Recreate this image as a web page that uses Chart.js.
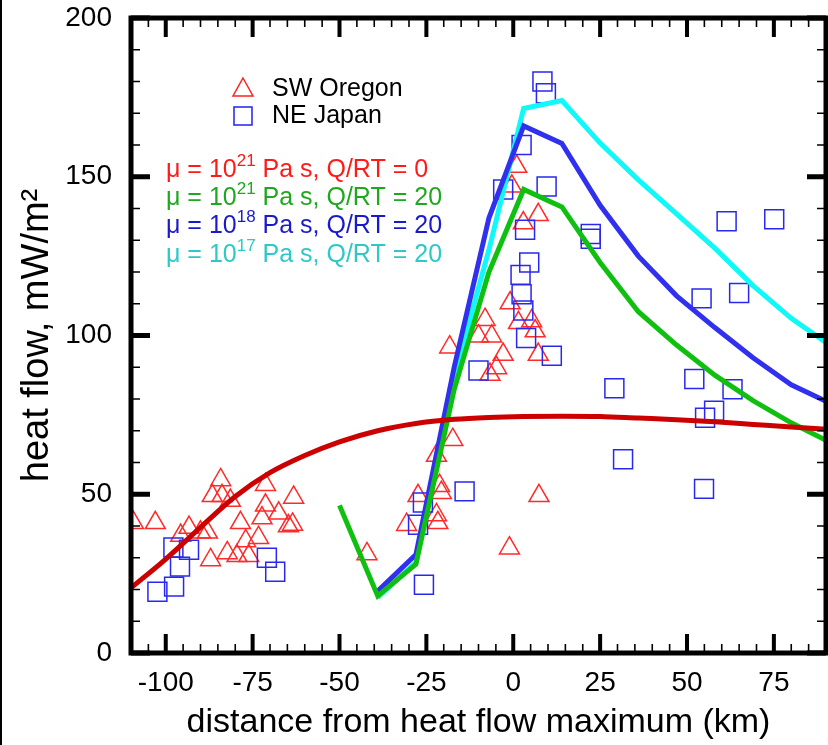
<!DOCTYPE html>
<html>
<head>
<meta charset="utf-8">
<title>heat flow</title>
<script src="https://cdn.jsdelivr.net/npm/chart.js@4.4.1/dist/chart.umd.min.js"></script>
<style>
    html, body { margin: 0; padding: 0; background: #fff; }
    #wrap { width: 828px; height: 745px; position: relative; }
</style>
</head>
<body>
<div id="wrap"><canvas id="heatChart" width="828" height="745"></canvas></div>
<script>
// tick labels
const xTickValues = [-100, -75, -50, -25, 0, 25, 50, 75];
const yTickValues = [0, 50, 100, 150, 200];

// model curves, on a shared distance grid (km)
const modelDistance = [-110, -100, -90, -80, -70, -60, -50, -39, -28, -17, -7, 3, 14, 25, 36, 47, 58, 69, 80, 90];
const flowMu21Q0  = [20.5, 29.6, 39.6, 49.3, 56.8, 62.2, 66.5, 70, 72.3, 73.6, 74.2, 74.5, 74.6, 74.5, 74, 73.5, 72.8, 72, 71.2, 70.5];
const flowMu21Q20 = [null, null, null, null, null, null, 46.5, 18, 28, 83, 120, 146, 140.5, 123, 107.5, 97, 87.5, 79.5, 72.5, 67];
const flowMu18Q20 = [null, null, null, null, null, null, null, 19.5, 31, 90, 137, 166, 160.5, 141, 125, 112.5, 102.5, 93, 84.5, 79.3];
const flowMu17Q20 = [null, null, null, null, null, null, null, 17.5, 28.5, 87, 127, 171.5, 174, 160.6, 149, 138.3, 127.5, 115.7, 105.4, 97.8];

// SW Oregon observations
const oregonX = [-109.3, -103, -84.2, -86.6, -83.8, -81.4, -71.3, -63.2, -71.3, -72.3, -67.5, -64.7, -63.5, -78.5, -93.3, -95.7, -90, -88, -77, -73.3, -87.1, -82.3, -79.5, -76.1,
    -42.1, -30.7, -27.4, -22.1, -21.2, -20.7, -22.1, -21.7, -17.4, -18.3, -1.1, 7.4,
    -8.1, -10, -6.2, -0.9, 1.5, 5.3, 6.3, -2.9, 7.2, -4.8, -6.7, 1, -0.4, 2.9, 7.2];
const oregonY = [41, 41, 54.5, 49.5, 49.5, 48, 53, 49, 46.5, 42.5, 44, 40, 40.5, 41, 39.5, 37, 38, 38, 35.3, 36.3, 29.3, 31.5, 30.6, 30.6,
    31.2, 40.4, 49.5, 62.2, 52.7, 50.5, 43.5, 41, 67.2, 96.3, 33, 49.5,
    105, 99.8, 99.8, 110.2, 104, 104.6, 101.4, 94, 94, 89.8, 87.7, 153.2, 147, 135.4, 138];

// NE Japan observations
const japanX = [-97.8, -93.3, -95.9, -97.6, -102.4, -70.9, -68.5,
    -25.7, -27.4, -26, -14, -10, 2.4, -2.9, 9.6, 3.4, 4.6, 2.1, 2.4, 2.9, 3.7, 11.1, 8.4, 9.4,
    22.3, 22.3, 61.4, 75.1, 54.2, 65, 29.1, 52.1, 63.1, 55.2, 57.8, 31.6, 54.9];
const japanY = [33.2, 32.5, 27.2, 20.9, 19.3, 30, 25.6,
    21.5, 40.4, 47.4, 50.9, 89, 160, 146, 146.9, 133.3, 123, 119.1, 113, 107.9, 99.2, 93.6, 180, 176.3,
    132, 130.5, 136, 136.6, 111.7, 113.4, 83.4, 86.3, 83.1, 74.1, 76.3, 61, 51.7];

const chartFont = "'Liberation Sans', Arial, Helvetica, sans-serif";

function toPoints(xs, ys) {
    const pts = [];
    xs.forEach((x, i) => {
        if (ys[i] !== null) pts.push({ x: x, y: ys[i] });
    });
    return pts;
}

// frame with inward major/minor ticks on all four sides
const framePlugin = {
    id: 'frame',
    afterDatasetsDraw(chart) {
        const ctx = chart.ctx;
        const area = chart.chartArea;
        const xs = chart.scales.x;
        const ys = chart.scales.y;
        ctx.save();
        ctx.strokeStyle = '#000';
        ctx.lineCap = 'butt';

        for (let v = -110; v <= 90; v += 5) {
            const px = xs.getPixelForValue(v);
            const major = v % 25 === 0;
            ctx.lineWidth = major ? 4 : 1.6;
            const len = major ? 19 : 9;
            ctx.beginPath();
            ctx.moveTo(px, area.bottom); ctx.lineTo(px, area.bottom - len);
            ctx.moveTo(px, area.top); ctx.lineTo(px, area.top + len);
            ctx.stroke();
        }
        for (let v = 0; v <= 200; v += 10) {
            const py = ys.getPixelForValue(v);
            const major = v % 50 === 0;
            ctx.lineWidth = major ? 5 : 1.6;
            const len = major ? 19 : 9;
            ctx.beginPath();
            ctx.moveTo(area.left, py); ctx.lineTo(area.left + len, py);
            ctx.moveTo(area.right, py); ctx.lineTo(area.right - len, py);
            ctx.stroke();
        }

        ctx.lineWidth = 5;
        ctx.strokeRect(area.left, area.top, area.right - area.left, area.bottom - area.top);

        // thin edge line of the original picture
        ctx.fillStyle = '#000';
        ctx.fillRect(0, 0, 2, chart.height);
        ctx.restore();
    }
};

// legend with superscripts, drawn by hand
const legendPlugin = {
    id: 'customLegend',
    afterDatasetsDraw(chart) {
        const ctx = chart.ctx;
        ctx.save();
        ctx.textBaseline = 'middle';
        ctx.textAlign = 'left';

        // markers
        ctx.lineWidth = 1.5;
        ctx.strokeStyle = '#ff2020';
        ctx.beginPath();
        ctx.moveTo(243, 78); ctx.lineTo(253, 96); ctx.lineTo(233, 96); ctx.closePath();
        ctx.stroke();
        ctx.strokeStyle = '#2020ee';
        ctx.strokeRect(234, 107, 18, 18);

        ctx.fillStyle = '#000';
        ctx.font = '25px ' + chartFont;
        ctx.fillText('SW Oregon', 272, 89);
        ctx.fillText('NE Japan', 272, 116);

        const rows = [
            { color: '#ff1a1a', exp: '21', rest: ' Pa s, Q/RT = 0', y: 170 },
            { color: '#1fa81f', exp: '21', rest: ' Pa s, Q/RT = 20', y: 198 },
            { color: '#1a1acc', exp: '18', rest: ' Pa s, Q/RT = 20', y: 226 },
            { color: '#2ec8c8', exp: '17', rest: ' Pa s, Q/RT = 20', y: 255 }
        ];
        rows.forEach(r => {
            let x = 166;
            ctx.fillStyle = r.color;
            ctx.font = '25px ' + chartFont;
            const head = '\u03bc = 10';
            ctx.fillText(head, x, r.y);
            x += ctx.measureText(head).width;
            ctx.font = '17px ' + chartFont;
            ctx.fillText(r.exp, x, r.y - 9);
            x += ctx.measureText(r.exp).width;
            ctx.font = '25px ' + chartFont;
            ctx.fillText(r.rest, x, r.y);
        });
        ctx.restore();
    }
};

const ctx = document.getElementById('heatChart').getContext('2d');
const heatChart = new Chart(ctx, {
    type: 'scatter',
    data: {
        datasets: [
            {
                label: 'mu21 Q0',
                data: toPoints(modelDistance, flowMu21Q0),
                showLine: true,
                borderColor: '#cc0000',
                borderWidth: 5,
                pointRadius: 0,
                cubicInterpolationMode: 'monotone',
                order: 1
            },
            {
                label: 'mu21 Q20',
                data: toPoints(modelDistance, flowMu21Q20),
                showLine: true,
                borderColor: '#10c010',
                borderWidth: 5,
                pointRadius: 0,
                tension: 0,
                order: 2
            },
            {
                label: 'mu18 Q20',
                data: toPoints(modelDistance, flowMu18Q20),
                showLine: true,
                borderColor: '#3030ee',
                borderWidth: 5,
                pointRadius: 0,
                tension: 0,
                order: 3
            },
            {
                label: 'mu17 Q20',
                data: toPoints(modelDistance, flowMu17Q20),
                showLine: true,
                borderColor: '#10f8f8',
                borderWidth: 5,
                pointRadius: 0,
                tension: 0,
                order: 4
            },
            {
                label: 'NE Japan',
                data: toPoints(japanX, japanY),
                pointStyle: 'rect',
                pointRadius: 13.4,
                pointBorderWidth: 1.5,
                pointBorderColor: '#2828ee',
                pointBackgroundColor: 'rgba(0,0,0,0)',
                order: 5
            },
            {
                label: 'SW Oregon',
                data: toPoints(oregonX, oregonY),
                pointStyle: 'triangle',
                pointRadius: 11.5,
                pointBorderWidth: 1.5,
                pointBorderColor: '#ff2a2a',
                pointBackgroundColor: 'rgba(0,0,0,0)',
                order: 6
            }
        ]
    },
    options: {
        responsive: false,
        animation: false,
        devicePixelRatio: 1,
        layout: { autoPadding: false, padding: { top: 18, right: 2, left: 0, bottom: 0 } },
        plugins: {
            legend: { display: false },
            tooltip: { enabled: false }
        },
        scales: {
            x: {
                type: 'linear',
                min: -110,
                max: 90,
                afterBuildTicks: scale => { scale.ticks = xTickValues.map(v => ({ value: v })); },
                afterFit: scale => {
                    scale.height = 92;
                    scale.paddingLeft = 0;
                    scale.paddingRight = 0;
                },
                grid: { display: false, drawTicks: false },
                border: { display: false },
                ticks: {
                    color: '#000',
                    padding: 13,
                    maxRotation: 0,
                    autoSkip: false,
                    font: { family: chartFont, size: 28 }
                },
                title: {
                    display: true,
                    text: 'distance from heat flow maximum (km)',
                    color: '#000',
                    padding: { top: 0, bottom: 2 },
                    font: { family: chartFont, size: 34 }
                }
            },
            y: {
                type: 'linear',
                min: 0,
                max: 200,
                afterBuildTicks: scale => { scale.ticks = yTickValues.map(v => ({ value: v })); },
                afterFit: scale => {
                    scale.width = 131;
                    scale.paddingTop = 0;
                    scale.paddingBottom = 0;
                },
                grid: { display: false, drawTicks: false },
                border: { display: false },
                ticks: {
                    color: '#000',
                    padding: 19,
                    autoSkip: false,
                    font: { family: chartFont, size: 28 }
                },
                title: {
                    display: true,
                    text: 'heat flow, mW/m\u00b2',
                    color: '#000',
                    padding: { top: 15, bottom: 0 },
                    font: { family: chartFont, size: 38 }
                }
            }
        }
    },
    plugins: [framePlugin, legendPlugin]
});
</script>
</body>
</html>
